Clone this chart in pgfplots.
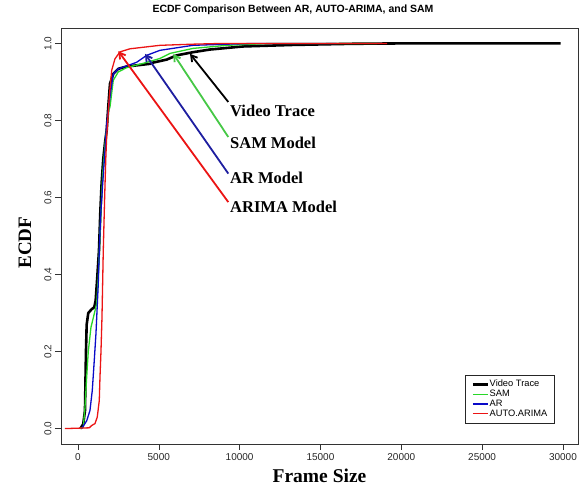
\documentclass[border=0pt]{standalone}
\usepackage{fontspec}
\setmainfont{Liberation Serif}
\setsansfont{Liberation Sans}
\usepackage{pgfplots}
\pgfplotsset{compat=1.18}
\usetikzlibrary{arrows.meta}

\definecolor{rgreen}{RGB}{40,215,40}
\definecolor{rblue}{RGB}{10,10,200}
\definecolor{rred}{RGB}{235,20,20}
\definecolor{agreen}{RGB}{70,200,70}
\definecolor{ablue}{RGB}{30,30,160}

\begin{document}
\begin{tikzpicture}
\useasboundingbox (-61pt,-42pt) rectangle (525pt,444pt);
\begin{axis}[
    scale only axis,
    width=517pt, height=416pt,
    xmin=-1050, xmax=30930,
    ymin=-0.04, ymax=1.04,
    xtick={0,5000,...,30000},
    ytick={0,0.2,...,1},
    tick pos=left,
    tick align=outside,
    major tick length=6pt,
    tick style={gray!40!black, line width=0.6pt},
    axis line style={gray!40!black, line width=0.8pt},
    scaled x ticks=false,
    /pgf/number format/assume math mode=true,
    ticklabel style={font=\sffamily\fontsize{10}{12}\selectfont, text=gray!30!black},
    x tick label style={/pgf/number format/.cd, fixed, 1000 sep={}},
    y tick label style={rotate=90, anchor=south, /pgf/number format/.cd, fixed, fixed zerofill, precision=1},
    xlabel={\textbf{Frame Size}},
    ylabel={\textbf{ECDF}},
    xlabel style={font=\fontsize{19.5}{22}\selectfont, at={(axis description cs:0.5,-0.0769)}, anchor=center},
    ylabel style={font=\fontsize{19}{22}\selectfont, at={(axis description cs:-0.0696,0.484)}, anchor=center},
    legend style={at={(axis description cs:0.954,0.0505)}, anchor=south east,
        font=\sffamily\fontsize{9.3}{10}\selectfont, draw=gray!30!black,
        row sep=0.6pt, inner xsep=6pt, inner ysep=4.5pt,
        nodes={inner sep=0.6pt}},
    legend cell align=left,
    legend image code/.code={\draw[#1] (0pt,0pt) -- (15pt,0pt);},
]
% Video Trace
\addplot[black, line width=2.6pt, line join=round] coordinates {
    (150,0) (328,0.012) (433,0.047) (495,0.2) (538,0.27) (637,0.30)
    (847,0.31) (1008,0.315) (1095,0.333) (1194,0.393) (1299,0.462)
    (1380,0.56) (1460,0.635) (1565,0.70) (1680,0.745) (1776,0.774)
    (1874,0.835) (1980,0.895) (2184,0.921) (2493,0.934) (3013,0.94)
    (3631,0.943) (4454,0.947) (4628,0.95) (5491,0.958) (6108,0.969)
    (7096,0.977) (8144,0.984) (10180,0.992) (13266,0.996) (17000,0.999)
    (20000,1.0) (29860,1.0)
};
\addlegendentry{Video Trace}
% SAM
\addplot[rgreen, line width=1.3pt] coordinates {
    (124,0) (328,0.003) (433,0.055) (538,0.133) (637,0.2) (804,0.263)
    (1008,0.298) (1157,0.325) (1256,0.393) (1330,0.47) (1420,0.56)
    (1530,0.66) (1680,0.74) (1800,0.79) (1900,0.826) (1980,0.835)
    (2184,0.904) (2493,0.926) (3013,0.937) (4021,0.948) (5073,0.961)
    (5691,0.974) (7114,0.987) (9217,0.995) (12000,1.0) (18500,1.0)
};
\addlegendentry{SAM}
% AR
\addplot[rblue, line width=1.3pt] coordinates {
    (229,0) (538,0.02) (742,0.047) (885,0.099) (1008,0.177) (1113,0.247)
    (1256,0.376) (1318,0.462) (1400,0.55) (1550,0.65) (1700,0.74)
    (1776,0.791) (1980,0.861) (2184,0.921) (2493,0.934) (3111,0.943)
    (3631,0.951) (3940,0.96) (4250,0.969) (5073,0.982) (7114,0.995)
    (9217,0.998) (11000,1.0) (16000,1.0)
};
\addlegendentry{AR}
% AUTO.ARIMA
\addplot[rred, line width=1.3pt] coordinates {
    (-804,0) (700,0.002) (847,0.008) (1052,0.013) (1194,0.03) (1318,0.073)
    (1361,0.133) (1423,0.2) (1485,0.289) (1565,0.462) (1650,0.60)
    (1720,0.70) (1776,0.757) (1936,0.861) (2085,0.93) (2289,0.96)
    (2598,0.978) (3217,0.986) (4040,0.99) (5073,0.995) (7114,0.998)
    (9000,1.0) (19130,1.0)
};
\addlegendentry{AUTO.ARIMA}

% annotations
\draw[black, line width=1.8pt, -{Straight Barb[length=6pt,width=7pt]}] (axis cs:9298,0.848) -- (axis cs:6928,0.973);
\draw[agreen, line width=1.8pt, -{Straight Barb[length=6pt,width=7pt]}] (axis cs:9298,0.757) -- (axis cs:5895,0.973);
\draw[ablue, line width=1.8pt, -{Straight Barb[length=6pt,width=7pt]}] (axis cs:9298,0.662) -- (axis cs:4145,0.973);
\draw[rred, line width=1.8pt, -{Straight Barb[length=6pt,width=7pt]}] (axis cs:9298,0.588) -- (axis cs:2493,0.98);
\node[anchor=base west, inner sep=0pt, font=\bfseries\fontsize{16.5}{18}\selectfont] at (axis cs:9403,0.81) {Video Trace};
\node[anchor=base west, inner sep=0pt, font=\bfseries\fontsize{16.5}{18}\selectfont] at (axis cs:9403,0.728) {SAM Model};
\node[anchor=base west, inner sep=0pt, font=\bfseries\fontsize{16.5}{18}\selectfont] at (axis cs:9403,0.635) {AR Model};
\node[anchor=base west, inner sep=0pt, font=\bfseries\fontsize{16.5}{18}\selectfont] at (axis cs:9403,0.561) {ARIMA Model};
\end{axis}
% title
\node[font=\sffamily\bfseries\fontsize{10.5}{12}\selectfont, inner sep=0pt] at (232pt,434pt) {ECDF Comparison Between AR, AUTO-ARIMA, and SAM};
\end{tikzpicture}
\end{document}
